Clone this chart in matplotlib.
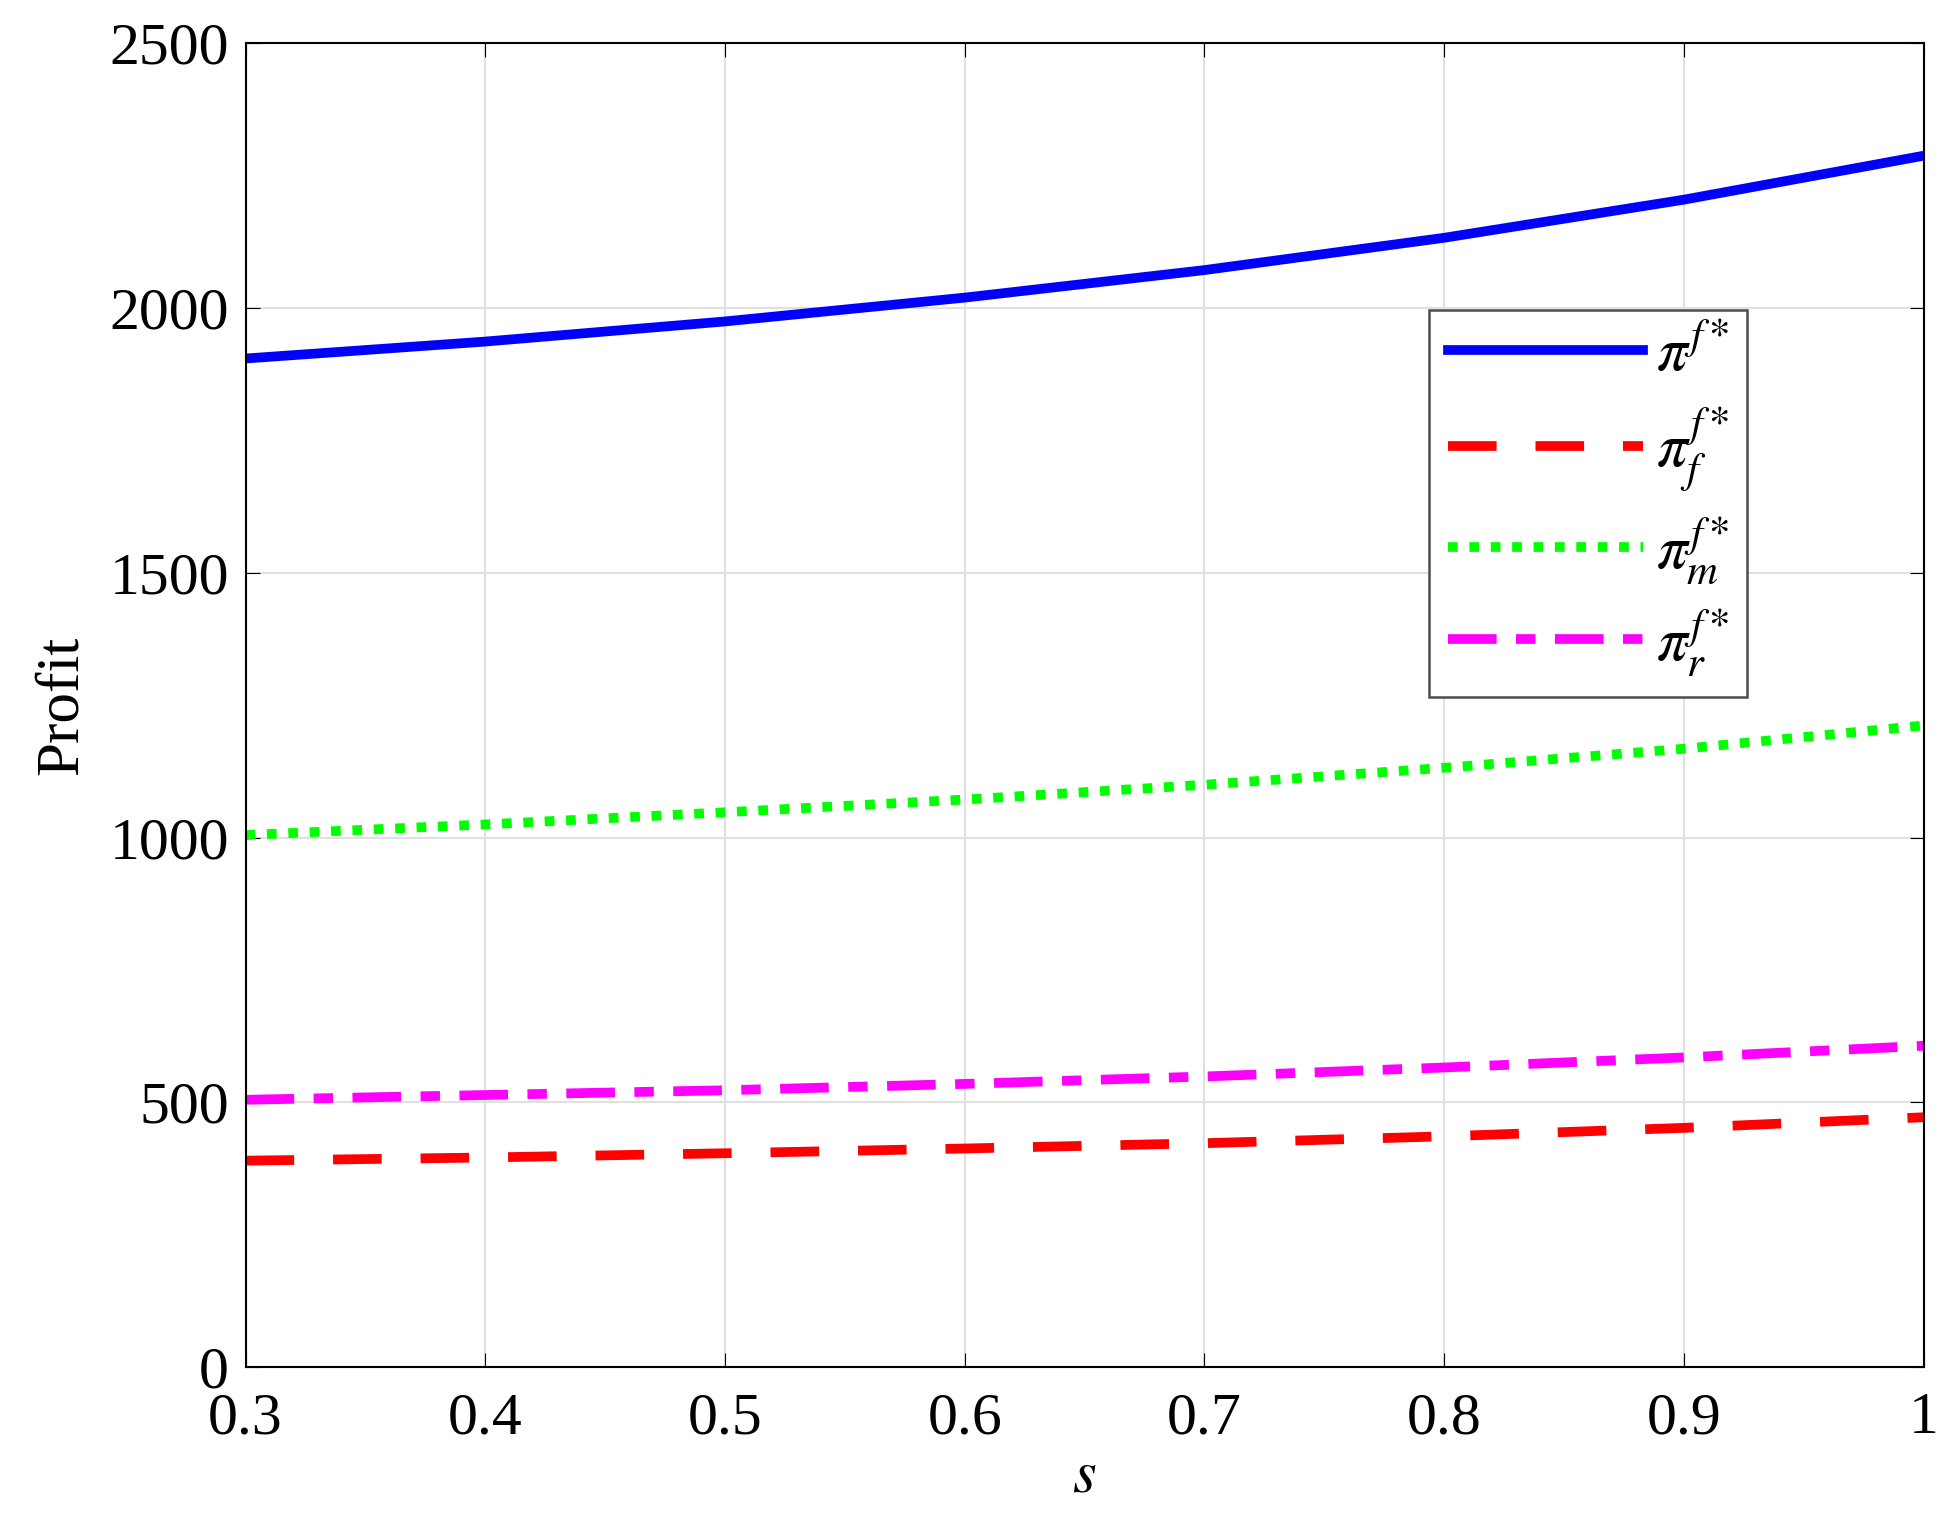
import numpy as np
import matplotlib.pyplot as plt

s = [0.3, 0.4, 0.5, 0.6, 0.7, 0.8, 0.9, 1.0]
pi_total = [1905, 1937, 1975, 2020, 2072, 2133, 2205, 2288]
pi_f = [390, 396, 404, 413, 423, 436, 452, 472]
pi_m = [1005, 1025, 1048, 1072, 1100, 1132, 1168, 1212]
pi_r = [505, 514, 523, 535, 549, 566, 585, 607]

plt.rcParams['font.family'] = ['Liberation Serif', 'DejaVu Serif']
plt.rcParams['mathtext.fontset'] = 'stix'

fig = plt.figure(figsize=(19.49, 15.25), dpi=100)
ax = fig.add_axes([0.126, 0.1035, 0.861, 0.868])

ax.plot(s, pi_total, color="blue", lw=7, label=r"$\pi^{f*}$")
ax.plot(s, pi_f, color="red", lw=7, ls=(0, (5, 4)), label=r"$\pi^{f*}_{f}$")
ax.plot(s, pi_m, color="#00ff00", lw=7, ls=(0, (1, 1.2)), label=r"$\pi^{f*}_{m}$")
ax.plot(s, pi_r, color="magenta", lw=7, ls=(0, (5, 2, 2, 2)), label=r"$\pi^{f*}_{r}$")

ax.set_xlim(0.3, 1)
ax.set_ylim(0, 2500)
ax.set_xticks([0.3, 0.4, 0.5, 0.6, 0.7, 0.8, 0.9, 1])
ax.set_xticklabels(["0.3", "0.4", "0.5", "0.6", "0.7", "0.8", "0.9", "1"])
ax.set_yticks(range(0, 2501, 500))
ax.tick_params(labelsize=43, direction="in", length=10, top=True, right=True)
ax.tick_params(axis="x", pad=18)
ax.tick_params(axis="y", pad=12)
ax.grid(True, color="0.88", lw=1.5)
for sp in ax.spines.values():
    sp.set_linewidth(1.5)
ax.set_xlabel(r"$s$", fontsize=44, labelpad=2)
ax.set_ylabel("Profit", fontsize=44, labelpad=14)

leg = ax.legend(loc="upper right", bbox_to_anchor=(0.913, 0.822), fontsize=44,
                fancybox=False, edgecolor="0.3", framealpha=1, handlelength=3.2,
                handletextpad=0.2, labelspacing=0.35, borderpad=0.3)
leg.get_frame().set_linewidth(1.8)

fig.savefig("out.png")
